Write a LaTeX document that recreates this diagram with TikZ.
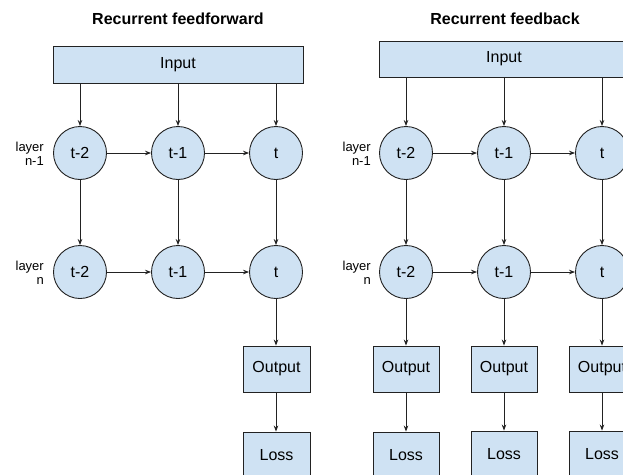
\documentclass[tikz,border=0pt]{standalone}
\usepackage{fontspec}
\setmainfont{Liberation Sans}
\usetikzlibrary{arrows.meta}
\definecolor{boxfill}{HTML}{CFE2F3}
\definecolor{edge}{HTML}{222222}
\begin{document}
\begin{tikzpicture}[x=1pt,y=-1pt,
  cell/.style={circle,draw=edge,fill=boxfill,line width=0.9pt,minimum size=53pt,inner sep=0pt,font=\fontsize{16}{18}\selectfont},
  box/.style={rectangle,draw=edge,fill=boxfill,line width=0.9pt,inner sep=0pt,font=\fontsize{16}{18}\selectfont},
  title/.style={font=\fontsize{16}{18}\selectfont\bfseries},
  lbl/.style={font=\fontsize{13}{15}\selectfont,align=right,anchor=east,inner sep=0pt},
  arr/.style={-{Stealth[length=6pt,width=4.5pt]},draw=edge,line width=0.8pt}]
\useasboundingbox (0,0) rectangle (623,474);
\clip (0,0) rectangle (623,474);
\fill[white] (0,0) rectangle (623,474);
% ---------- left: recurrent feedforward ----------
\node[title] (tl) at (178,19) {Recurrent feedforward};
\node[box,minimum width=250pt,minimum height=37pt] (inL) at (178,64.5) {Input};
\node[cell] (a1) at (80,153) {t-2};
\node[cell] (b1) at (178,153) {t-1};
\node[cell] (c1) at (276,153) {t};
\node[cell] (a2) at (80,272) {t-2};
\node[cell] (b2) at (178,272) {t-1};
\node[cell] (c2) at (276,272) {t};
\node[box,minimum width=67pt,minimum height=46pt] (oL) at (276.5,369) {Output};
\node[box,minimum width=67pt,minimum height=46pt] (lL) at (276.5,455) {Loss};
\node[lbl] (la1) at (44,154) {layer\\[-1pt]n-1};
\node[lbl] (la2) at (44,273) {layer\\[-1pt]n};
\foreach \n in {a1,b1,c1}{\draw[arr] (inL.south -| \n) -- (\n.north);}
\draw[arr] (a1) -- (b1);
\draw[arr] (b1) -- (c1);
\draw[arr] (a2) -- (b2);
\draw[arr] (b2) -- (c2);
\draw[arr] (a1) -- (a2);
\draw[arr] (b1) -- (b2);
\draw[arr] (c1) -- (c2);
\draw[arr] (c2) -- (oL.north -| c2);
\draw[arr] (oL.south -| c2) -- (lL.north -| c2);
% ---------- right: recurrent feedback ----------
\node[title] (tr) at (505,19) {Recurrent feedback};
\node[box,minimum width=250pt,minimum height=36pt] (inR) at (504,59) {Input};
\node[cell] (d1) at (406,153) {t-2};
\node[cell] (e1) at (504,153) {t-1};
\node[cell] (f1) at (602,153) {t};
\node[cell] (d2) at (406,272) {t-2};
\node[cell] (e2) at (504,272) {t-1};
\node[cell] (f2) at (602,272) {t};
\node[box,minimum width=66pt,minimum height=46pt] (o1) at (406,369) {Output};
\node[box,minimum width=66pt,minimum height=46pt] (o2) at (504,369) {Output};
\node[box,minimum width=66pt,minimum height=46pt] (o3) at (602,369) {Output};
\node[box,minimum width=66pt,minimum height=46pt] (s1) at (406,455) {Loss};
\node[box,minimum width=66pt,minimum height=46pt] (s2) at (504,454) {Loss};
\node[box,minimum width=66pt,minimum height=46pt] (s3) at (602,454) {Loss};
\node[lbl] (lb1) at (371,154) {layer\\[-1pt]n-1};
\node[lbl] (lb2) at (371,273) {layer\\[-1pt]n};
\foreach \n in {d1,e1,f1}{\draw[arr] (inR.south -| \n) -- (\n.north);}
\draw[arr] (d1) -- (e1);
\draw[arr] (e1) -- (f1);
\draw[arr] (d2) -- (e2);
\draw[arr] (e2) -- (f2);
\draw[arr] (d1) -- (d2);
\draw[arr] (e1) -- (e2);
\draw[arr] (f1) -- (f2);
\draw[arr] (d2) -- (o1);
\draw[arr] (e2) -- (o2);
\draw[arr] (f2) -- (o3);
\draw[arr] (o1) -- (s1);
\draw[arr] (o2) -- (s2);
\draw[arr] (o3) -- (s3);
\end{tikzpicture}
\end{document}
